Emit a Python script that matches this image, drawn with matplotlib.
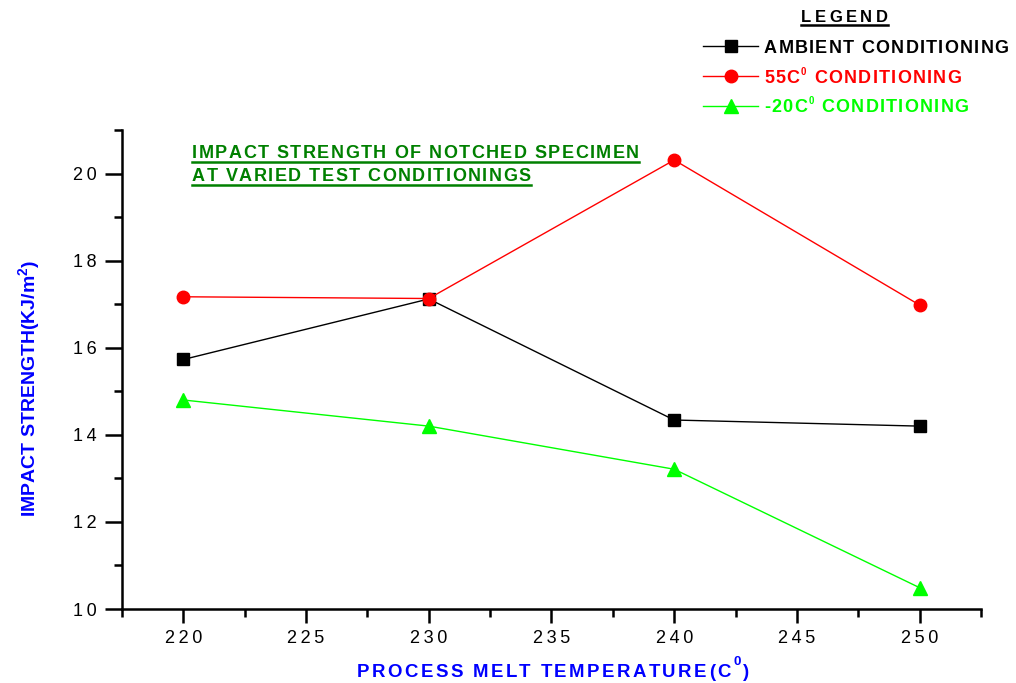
import numpy as np
import matplotlib
matplotlib.use("Agg")
import matplotlib.pyplot as plt
from matplotlib.ticker import MultipleLocator, FuncFormatter
from matplotlib.lines import Line2D
from matplotlib import font_manager
from matplotlib.font_manager import FontProperties
from matplotlib.ft2font import FT2Font

# data
temps = [220, 230, 240, 250]
ambient = [15.73, 17.12, 14.34, 14.20]
hot_55 = [17.17, 17.13, 20.31, 16.98]
cold_20 = [14.80, 14.20, 13.21, 10.49]

series_names = ["AMBIENT CONDITIONING", "55C$^0$ CONDITIONING", "-20C$^0$ CONDITIONING"]
# legend text split as (text before superscript, superscript, text after)
legend_parts = [("AMBIENT CONDITIONING", "", ""),
                ("55C", "0", " CONDITIONING"),
                ("-20C", "0", " CONDITIONING")]
title_lines = ["IMPACT STRENGTH OF NOTCHED SPECIMEN", "AT VARIED TEST CONDITIONINGS"]
xlabel_parts = ("PROCESS MELT TEMPERATURE(C", "0", ")")

plt.rcParams['font.family'] = ['Liberation Sans', 'DejaVu Sans']
plt.rcParams['mathtext.fontset'] = 'custom'
plt.rcParams['mathtext.rm'] = 'Liberation Sans:bold'
plt.rcParams['mathtext.default'] = 'rm'

W, H = 1016, 683
fig = plt.figure(figsize=(W / 100, H / 100), dpi=100)
ax = fig.add_axes([0.1201, 0.1083, 0.8454, 0.7014])

ax.plot(temps, ambient, color='black', lw=1.0, marker='s', ms=9, label=series_names[0])
ax.plot(temps, hot_55, color='#ff0000', lw=1.0, marker='o', ms=9, label=series_names[1])
ax.plot(temps, cold_20, color='#00ff00', lw=1.0, marker='^', ms=10, label=series_names[2])

ax.set_xlim(217.5, 252.5)
ax.set_ylim(10, 21)
ax.xaxis.set_major_locator(MultipleLocator(5))
ax.xaxis.set_minor_locator(MultipleLocator(2.5))
ax.yaxis.set_major_locator(MultipleLocator(2))
ax.yaxis.set_minor_locator(MultipleLocator(1))
# Origin-like wide digit spacing
spaced_fmt = FuncFormatter(lambda v, p: '\u2009'.join('{0:g}'.format(v)))
ax.xaxis.set_major_formatter(spaced_fmt)
ax.yaxis.set_major_formatter(spaced_fmt)
ax.spines['top'].set_visible(False)
ax.spines['right'].set_visible(False)
for s in ['left', 'bottom']:
    ax.spines[s].set_linewidth(1.8)
ax.tick_params(which='major', direction='out', width=1.8, length=10, labelsize=13)
ax.tick_params(which='minor', direction='out', width=1.8, length=6)
ax.tick_params(axis='y', which='major', length=12, pad=6)
ax.tick_params(axis='x', which='major', pad=5)

ax.set_ylabel("IMPACT STRENGTH(KJ/m$^2$)", color='#0000ff', fontsize=14, fontweight='bold')
ax.yaxis.set_label_coords(-0.108, 0.46)
ax.yaxis.label.set_va('center')

# letter-spaced bold text, placed glyph by glyph
font_path = font_manager.findfont(FontProperties(family='Liberation Sans', weight='bold'))
ft = FT2Font(font_path, hinting_factor=1)


def advance(ch, size):
    ft.set_size(size, 100)
    return ft.load_char(ord(ch)).linearHoriAdvance / 65536


def spaced_text(x, y, parts, color, spacing=None, width=None):
    # x, y in pixels from top-left, y is the baseline; parts are (text, size, rise)
    if width is not None:
        n = sum(len(s) for s, _, _ in parts)
        natural = sum(advance(ch, size) for s, size, _ in parts for ch in s)
        spacing = (width - natural) / (n - 1)
    cur = x
    for s, size, rise in parts:
        for ch in s:
            if ch != ' ':
                fig.text(cur / W, 1 - (y - rise) / H, ch, fontsize=size, fontweight='bold',
                         color=color, ha='left', va='baseline')
            cur += advance(ch, size) + spacing
    return cur - spacing


def underline(x0, x1, y, color):
    fig.add_artist(Line2D([x0 / W, x1 / W], [1 - y / H, 1 - y / H], color=color, lw=1.8,
                          transform=fig.transFigure))


# x axis title
pre, sup, post = xlabel_parts
spaced_text(357, 677, [(pre, 13.4, 0), (sup, 9.5, 12), (post, 13.4, 0)], '#0000ff',
            width=392)

# title inside the plot
title_base = [158, 181]
for line, yb in zip(title_lines, title_base):
    x_end = spaced_text(192, yb, [(line, 13, 0)], '#008000', 1.5)
    underline(192, x_end, yb + 3.5, '#008000')

# legend, drawn by hand to mimic the Origin style
x_end = spaced_text(801, 22, [("LEGEND", 12, 0)], 'black', 3.2)
underline(801, x_end, 25, 'black')
colors = ['black', '#ff0000', '#00ff00']
line_y = [46, 76, 106]
text_base = [53, 83, 112]
for h, parts, c, ly, tb in zip(ax.get_lines(), legend_parts, colors, line_y, text_base):
    yf = 1 - ly / H
    fig.add_artist(Line2D([703 / W, 758 / W], [yf, yf], color=c, lw=1.0,
                          transform=fig.transFigure))
    fig.add_artist(Line2D([731 / W], [yf], color=c, marker=h.get_marker(),
                          ms=h.get_markersize(), lw=0, transform=fig.transFigure))
    pre, sup, post = parts
    spaced_text(764, tb, [(pre, 13, 0), (sup, 7, 8), (post, 13, 0)], c, 1.3)

fig.savefig("out.png", dpi=100)
